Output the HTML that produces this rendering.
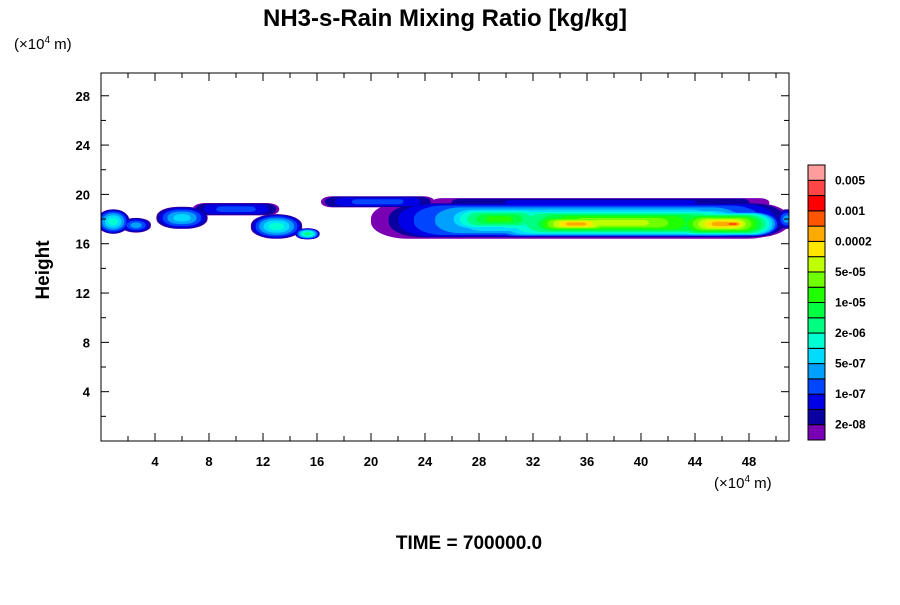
<!DOCTYPE html>
<html><head><meta charset="utf-8"><style>
body{margin:0;background:#fff;}
svg text{font-family:"Liberation Sans",sans-serif;}
</style></head><body>
<svg id="chart" width="900" height="600" viewBox="0 0 900 600" xmlns="http://www.w3.org/2000/svg">
<defs><clipPath id="plotclip"><rect x="101" y="73" width="688" height="368"/></clipPath></defs>
<text x="445" y="26" font-size="24" font-weight="bold" text-anchor="middle">NH3-s-Rain Mixing Ratio [kg/kg]</text>
<text x="14" y="49" font-size="15">(×10<tspan font-size="10" dy="-6">4</tspan><tspan dy="6"> m)</tspan></text>
<text x="714" y="488" font-size="15">(×10<tspan font-size="10" dy="-6">4</tspan><tspan dy="6"> m)</tspan></text>
<text transform="translate(49,270) rotate(-90)" font-size="19" font-weight="bold" text-anchor="middle">Height</text>
<text x="469" y="549" font-size="19" font-weight="bold" text-anchor="middle">TIME = 700000.0</text>
<g id="field" clip-path="url(#plotclip)"></g>
<g id="axes"></g>
<g id="cbar"></g>
</svg>
<script>
const colors=["#7a00b4","#0a00a0","#0000e6","#0046ff","#00a0ff","#00dcff","#00ffd2","#00ff80","#00ff40","#20ff00","#70ff00","#c0ff00","#ffe600","#ffaa00","#ff5500","#ff0000","#ff4646","#ff9c9c"];
const cbarLabels=["2e-08","1e-07","5e-07","2e-06","1e-05","5e-05","0.0002","0.001","0.005"];
const xTicks=[4,8,12,16,20,24,28,32,36,40,44,48];
const yTicks=[4,8,12,16,20,24,28];
// blobs: x center, height center, x radius, height radius, peak level
const blobX=[0.9,2.6,6.0,10.0,13.0,15.3,20.5,35.3,37.0,36.0,29.5,38.5,35.2,46.0,46.8,50.8];
const blobY=[17.8,17.5,18.1,18.8,17.4,16.8,19.4,17.9,19.3,17.9,18.0,17.7,17.6,17.6,17.6,18.0];
const blobRX=[1.2,1.1,1.9,3.2,1.9,0.9,4.2,15.3,12.5,15.0,4.5,10.5,4.2,4.3,1.8,0.7];
const blobRY=[1.0,0.6,0.9,0.5,1.0,0.45,0.45,1.5,0.4,1.4,1.0,1.15,0.75,1.0,0.55,0.8];
const blobPeak=[6,4,5,3,6,7,3,2,2,7,9,11,13,13,14,4];

const X=v=>101+v*13.5, Y=v=>441-v*12.33;
const NS="http://www.w3.org/2000/svg";
function mk(tag,attrs,parent){const e=document.createElementNS(NS,tag);for(const k in attrs)e.setAttribute(k,attrs[k]);parent.appendChild(e);return e;}
const field=document.getElementById('field');
const maxL=Math.max(...blobPeak);
for(let k=0;k<=maxL;k++){
  for(let i=0;i<blobX.length;i++){
    if(blobPeak[i]<k)continue;
    const f=k/(blobPeak[i]+1);
    const s=1-f*f*0.9-f*0.05;
    const w=blobRX[i]*13.5*s, h=blobRY[i]*12.33*s;
    const el=mk('rect',{x:X(blobX[i])-w,y:Y(blobY[i])-h,width:2*w,height:2*h,rx:Math.min(w,h*2),ry:h*0.9,fill:colors[k]},field);
    
    
  }
}
const ax=document.getElementById('axes');
const frame=mk('rect',{x:101,y:73,width:688,height:368,fill:'none',stroke:'#000','stroke-width':1},ax);


for(let v=2;v<=50;v+=2){
  const len=v%4===0?8:5;
  mk('line',{x1:X(v),x2:X(v),y1:441,y2:441-len,stroke:'#000'},ax);
  mk('line',{x1:X(v),x2:X(v),y1:73,y2:73+len,stroke:'#000'},ax);
}
for(let v=2;v<=28;v+=2){
  const len=v%4===0?8:5;
  mk('line',{x1:101,x2:101+len,y1:Y(v),y2:Y(v),stroke:'#000'},ax);
  mk('line',{x1:789,x2:789-len,y1:Y(v),y2:Y(v),stroke:'#000'},ax);
}
xTicks.forEach(v=>{const t=mk('text',{x:X(v),y:466,'font-size':13,'font-weight':'bold','text-anchor':'middle'},ax);t.textContent=v;

});
yTicks.forEach(v=>{const t=mk('text',{x:90,y:Y(v)+5,'font-size':13,'font-weight':'bold','text-anchor':'end'},ax);t.textContent=v;

});
const cb=document.getElementById('cbar');
const bh=275/colors.length;
colors.forEach((c,i)=>{const r=mk('rect',{x:808,y:440-(i+1)*bh,width:17,height:bh,fill:c,stroke:'#000','stroke-width':1},cb);

});
cbarLabels.forEach((l,i)=>{const t=mk('text',{x:835,y:440-(2*i+1)*bh+4,'font-size':12,'font-weight':'bold'},cb);t.textContent=l;

});
</script>
</body></html>
